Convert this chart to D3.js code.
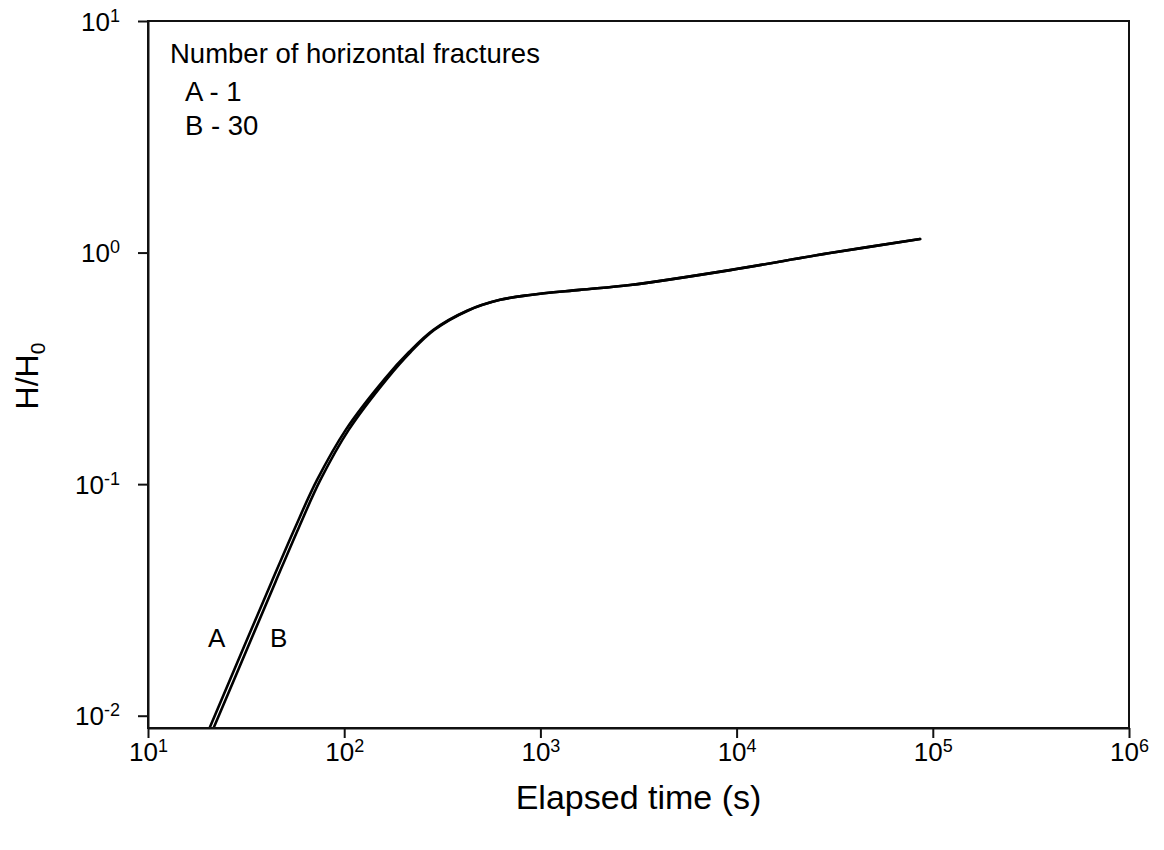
<!DOCTYPE html>
<html>
<head>
<meta charset="utf-8">
<script src="https://cdn.jsdelivr.net/npm/d3@7/dist/d3.min.js"></script>
<style>
  html, body { margin: 0; padding: 0; background: #fff; }
  svg { display: block; font-family: "Liberation Sans", Arial, sans-serif; }
</style>
</head>
<body>
<svg id="chart" width="1164" height="850"></svg>
<script>
// ---- data ----
const xTicks = [1e1, 1e2, 1e3, 1e4, 1e5, 1e6];
const xTickExp = ["1", "2", "3", "4", "5", "6"];
const yTicks = [1e-2, 1e-1, 1e0, 1e1];
const yTickExp = ["-2", "-1", "0", "1"];

// Curve A: 1 horizontal fracture
const timeA = [19.95, 20.7, 30.8, 42.7, 56.1, 72.6, 102, 161, 214, 284, 423, 622, 885, 1585, 2864, 9250, 29900, 86100];
const valueA = [0.0083, 0.00893, 0.0198, 0.0379, 0.0647, 0.104, 0.172, 0.285, 0.372, 0.463, 0.561, 0.625, 0.656, 0.690, 0.724, 0.840, 0.995, 1.144];
// Curve B: 30 horizontal fractures
const timeB = [20.9, 21.7, 32.3, 44.7, 58.6, 75.5, 105.6, 165.2, 218, 287.4, 426, 624, 887, 1588, 2868, 9260, 29930, 86150];
const valueB = [0.0083, 0.00893, 0.0198, 0.0379, 0.0647, 0.104, 0.172, 0.285, 0.372, 0.463, 0.561, 0.625, 0.656, 0.690, 0.724, 0.840, 0.995, 1.144];

const legendTitle = "Number of horizontal fractures";
const legendLines = ["A - 1", "B - 30"];
const curveLabels = ["A", "B"];

// ---- layout ----
const pLeft = 148, pRight = 1129, pTop = 21, pBottom = 728;
const svg = d3.select("#chart");

const x = d3.scaleLog().domain([10, 1e6]).range([pLeft, pRight]);
const y = d3.scaleLog().domain([0.00885, 10]).range([pBottom, pTop]);

// clip
svg.append("clipPath").attr("id", "plotclip")
  .append("rect").attr("x", pLeft).attr("y", pTop)
  .attr("width", pRight - pLeft).attr("height", pBottom - pTop);

// curves
const line = d3.line()
  .x(d => x(d[0])).y(d => y(d[1]))
  .curve(d3.curveCatmullRom.alpha(0.5));

const series = [
  timeA.map((t, i) => [t, valueA[i]]),
  timeB.map((t, i) => [t, valueB[i]])
];
svg.append("g").attr("clip-path", "url(#plotclip)")
  .selectAll("path").data(series).join("path")
  .attr("d", line)
  .attr("fill", "none")
  .attr("stroke", "#000")
  .attr("stroke-width", 2.6)
  .attr("stroke-linejoin", "round")
  .attr("stroke-linecap", "round");

// frame
svg.append("rect")
  .attr("x", pLeft).attr("y", pTop)
  .attr("width", pRight - pLeft).attr("height", pBottom - pTop)
  .attr("fill", "none").attr("stroke", "#111").attr("stroke-width", 2);

// axes
const xAxis = d3.axisBottom(x).tickValues(xTicks).tickSize(10).tickSizeOuter(0).tickFormat(() => "");
const gx = svg.append("g").attr("transform", `translate(0,${pBottom})`).call(xAxis);
gx.select(".domain").attr("stroke", "#111").attr("stroke-width", 2);
gx.selectAll(".tick line").attr("stroke", "#111").attr("stroke-width", 2);
gx.selectAll(".tick text").each(function(d, i) {
  const t = d3.select(this);
  t.text(null).attr("y", 33).attr("dy", null)
    .attr("fill", "#000").attr("font-size", 26).attr("text-anchor", "middle");
  t.append("tspan").text("10");
  t.append("tspan").attr("dy", -9).attr("font-size", 18).text(xTickExp[i]);
});

const yAxis = d3.axisLeft(y).tickValues(yTicks).tickSize(10).tickSizeOuter(0).tickFormat(() => "");
const gy = svg.append("g").attr("transform", `translate(${pLeft},0)`).call(yAxis);
gy.select(".domain").attr("stroke", "#111").attr("stroke-width", 2);
gy.selectAll(".tick line").attr("stroke", "#111").attr("stroke-width", 2);
gy.selectAll(".tick text").each(function(d, i) {
  const t = d3.select(this);
  t.text(null).attr("x", -28).attr("y", 9).attr("dy", null)
    .attr("fill", "#000").attr("font-size", 26).attr("text-anchor", "end");
  t.append("tspan").text("10");
  t.append("tspan").attr("dy", -9).attr("font-size", 18).text(yTickExp[i]);
});

// axis titles
svg.append("text")
  .attr("x", (pLeft + pRight) / 2).attr("y", 809)
  .attr("text-anchor", "middle").attr("font-size", 34).attr("fill", "#000")
  .text("Elapsed time (s)");

const yt = svg.append("text")
  .attr("transform", "translate(38,376) rotate(-90)")
  .attr("text-anchor", "middle").attr("font-size", 32).attr("fill", "#000");
yt.append("tspan").text("H/H");
yt.append("tspan").attr("dy", 7).attr("font-size", 21).text("0");

// legend text
svg.append("text").attr("x", 170).attr("y", 63)
  .attr("font-size", 27.5).attr("fill", "#000").text(legendTitle);
svg.selectAll(".leg").data(legendLines).join("text")
  .attr("class", "leg")
  .attr("x", 185).attr("y", (d, i) => i === 0 ? 101 : 135)
  .attr("font-size", 27.5).attr("fill", "#000").text(d => d);

// curve labels
svg.selectAll(".clab").data(curveLabels).join("text")
  .attr("class", "clab")
  .attr("x", (d, i) => i === 0 ? 208 : 270).attr("y", 647)
  .attr("font-size", 26).attr("fill", "#000").text(d => d);
</script>
</body>
</html>
